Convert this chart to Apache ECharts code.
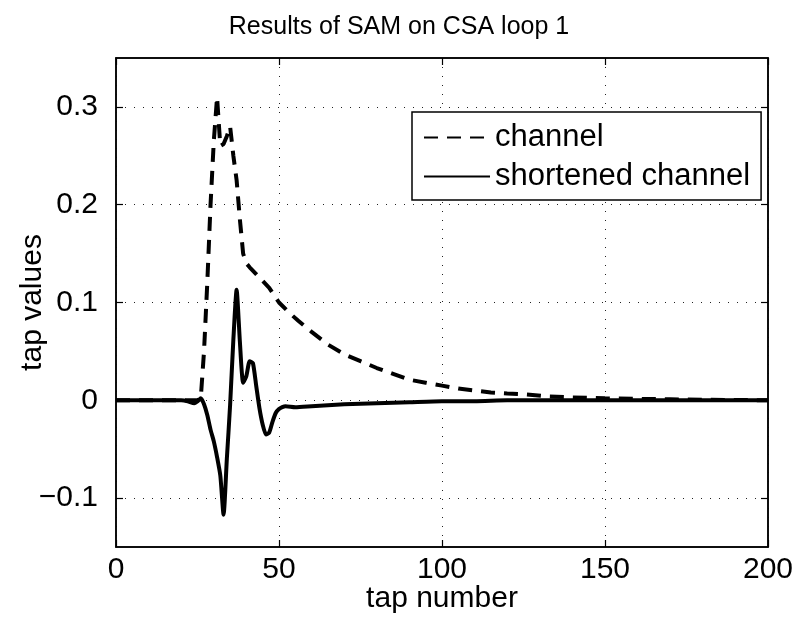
<!DOCTYPE html>
<html>
<head>
<meta charset="utf-8">
<script src="https://cdn.jsdelivr.net/npm/echarts@6/dist/echarts.min.js"></script>
<style>html,body{margin:0;padding:0;background:#fff;}#c{width:798px;height:624px;}</style>
</head>
<body>
<div id="c"></div>
<script>
// ---- data ----
var titleText = 'Results of SAM on CSA loop 1';
var xName = 'tap number';
var yName = 'tap values';
var xTicks = [0, 50, 100, 150, 200];
var yTicks = [-0.1, 0, 0.1, 0.2, 0.3];

var channelTaps = [0, 25, 26, 27, 28, 29, 30, 31, 32, 33, 34, 35, 36, 37, 38, 39, 40, 41, 43, 45, 47, 50, 53, 56, 60, 65, 70, 75, 80, 85, 90, 95, 100, 105, 110, 115, 120, 126, 133, 140, 150, 160, 170, 180, 190, 200];
var channelVals = [0, 0, 0.002, 0.05, 0.12, 0.2, 0.265, 0.31, 0.26, 0.262, 0.27, 0.28, 0.25, 0.225, 0.185, 0.15, 0.14, 0.136, 0.129, 0.122, 0.115, 0.1, 0.09, 0.081, 0.07, 0.057, 0.047, 0.04, 0.033, 0.027, 0.021, 0.018, 0.015, 0.012, 0.01, 0.008, 0.007, 0.006, 0.004, 0.003, 0.002, 0.0015, 0.001, 0.0005, 0.0003, 0];

var shortTaps = [0, 20, 22, 24, 25, 26, 27, 28, 29, 30, 31, 32, 33, 34, 35, 36, 37, 38, 39, 40, 41, 42, 43, 44, 45, 46, 47, 48, 49, 50, 51, 52, 55, 60, 70, 80, 90, 100, 110, 120, 140, 160, 180, 200];
var shortVals = [0, 0, -0.001, -0.003, -0.001, 0.002, -0.004, -0.015, -0.03, -0.042, -0.058, -0.077, -0.117, -0.06, -0.005, 0.062, 0.113, 0.06, 0.018, 0.025, 0.04, 0.038, 0.015, -0.008, -0.025, -0.035, -0.033, -0.022, -0.013, -0.009, -0.007, -0.006, -0.007, -0.006, -0.004, -0.003, -0.002, -0.001, -0.001, 0, 0, 0, 0, 0];

var seriesNames = ['channel', 'shortened channel'];

function pairs(xs, ys) { return xs.map(function (x, i) { return [x, ys[i]]; }); }
function fmt(v) { return String(Math.round(v * 10) / 10).replace('-', '\u2212'); }

var FONT = 'Liberation Sans, Arial, Helvetica, sans-serif';
var chart = echarts.init(document.getElementById('c'), null, {renderer: 'canvas'});
var gridLine = {show: true, lineStyle: {color: '#222', width: 1, type: [1, 8]}};
var axisCommon = {
  axisLine: {show: true, onZero: false, lineStyle: {color: '#000', width: 1.5}},
  axisTick: {show: true, inside: true, length: 7, lineStyle: {color: '#000', width: 1.2}}
};
chart.setOption({
  animation: false,
  backgroundColor: '#fff',
  title: {text: titleText, left: 'center', top: 10, textStyle: {fontFamily: FONT, fontSize: 25, fontWeight: 'normal', color: '#000'}},
  grid: {left: 116, right: 30, top: 58, bottom: 77, outerBoundsMode: 'none', containLabel: false,
    show: true, borderColor: '#000', borderWidth: 1.5, backgroundColor: 'transparent'},
  legend: {
    orient: 'vertical', left: 412, top: 112,
    data: seriesNames,
    itemWidth: 66, itemHeight: 14, itemGap: 8,
    padding: [10, 11, 8, 11],
    borderColor: '#000', borderWidth: 1.5, backgroundColor: '#fff',
    itemStyle: {opacity: 0, borderWidth: 0},
    textStyle: {fontFamily: FONT, fontSize: 31, color: '#000'}
  },
  xAxis: [
    Object.assign({type: 'value', min: 0, max: 200, interval: 50, position: 'bottom',
      name: xName, nameLocation: 'middle', nameGap: 37, nameMoveOverlap: false,
      nameTextStyle: {fontFamily: FONT, fontSize: 30, color: '#000'},
      axisLabel: {fontFamily: FONT, fontSize: 30, color: '#000', margin: 8, formatter: function (v) { return xTicks.indexOf(v) >= 0 ? String(v) : ''; }},
      splitLine: gridLine}, axisCommon),
    Object.assign({type: 'value', min: 0, max: 200, interval: 50, position: 'top',
      axisLabel: {show: false}, splitLine: {show: false}}, axisCommon)
  ],
  yAxis: [
    Object.assign({type: 'value', min: -0.15, max: 0.35, position: 'left',
      customValues: yTicks,
      name: yName, nameLocation: 'middle', nameGap: 68, nameMoveOverlap: false,
      nameTextStyle: {fontFamily: FONT, fontSize: 30, color: '#000'},
      axisLabel: {fontFamily: FONT, fontSize: 30, color: '#000', margin: 18, customValues: yTicks, formatter: fmt},
      axisTick: {show: true, inside: true, length: 7, customValues: yTicks, lineStyle: {color: '#000', width: 1.2}},
      axisLine: {show: true, onZero: false, lineStyle: {color: '#000', width: 1.5}},
      splitLine: gridLine}),
    Object.assign({type: 'value', min: -0.15, max: 0.35, position: 'right',
      axisLabel: {show: false}, splitLine: {show: false},
      axisTick: {show: true, inside: true, length: 7, customValues: yTicks, lineStyle: {color: '#000', width: 1.2}},
      axisLine: {show: true, onZero: false, lineStyle: {color: '#000', width: 1.5}}})
  ],
  series: [
    {name: seriesNames[0], type: 'line', data: pairs(channelTaps, channelVals), symbol: 'none', smooth: false,
      lineStyle: {color: '#000', width: 4, type: [14, 9], cap: 'butt'}, itemStyle: {color: '#000'}, z: 3},
    {name: seriesNames[1], type: 'line', data: pairs(shortTaps, shortVals), symbol: 'none', smooth: 0.2,
      lineStyle: {color: '#000', width: 4, type: 'solid', join: 'round'}, itemStyle: {color: '#000'}, z: 4}
  ]
});
</script>
</body>
</html>
